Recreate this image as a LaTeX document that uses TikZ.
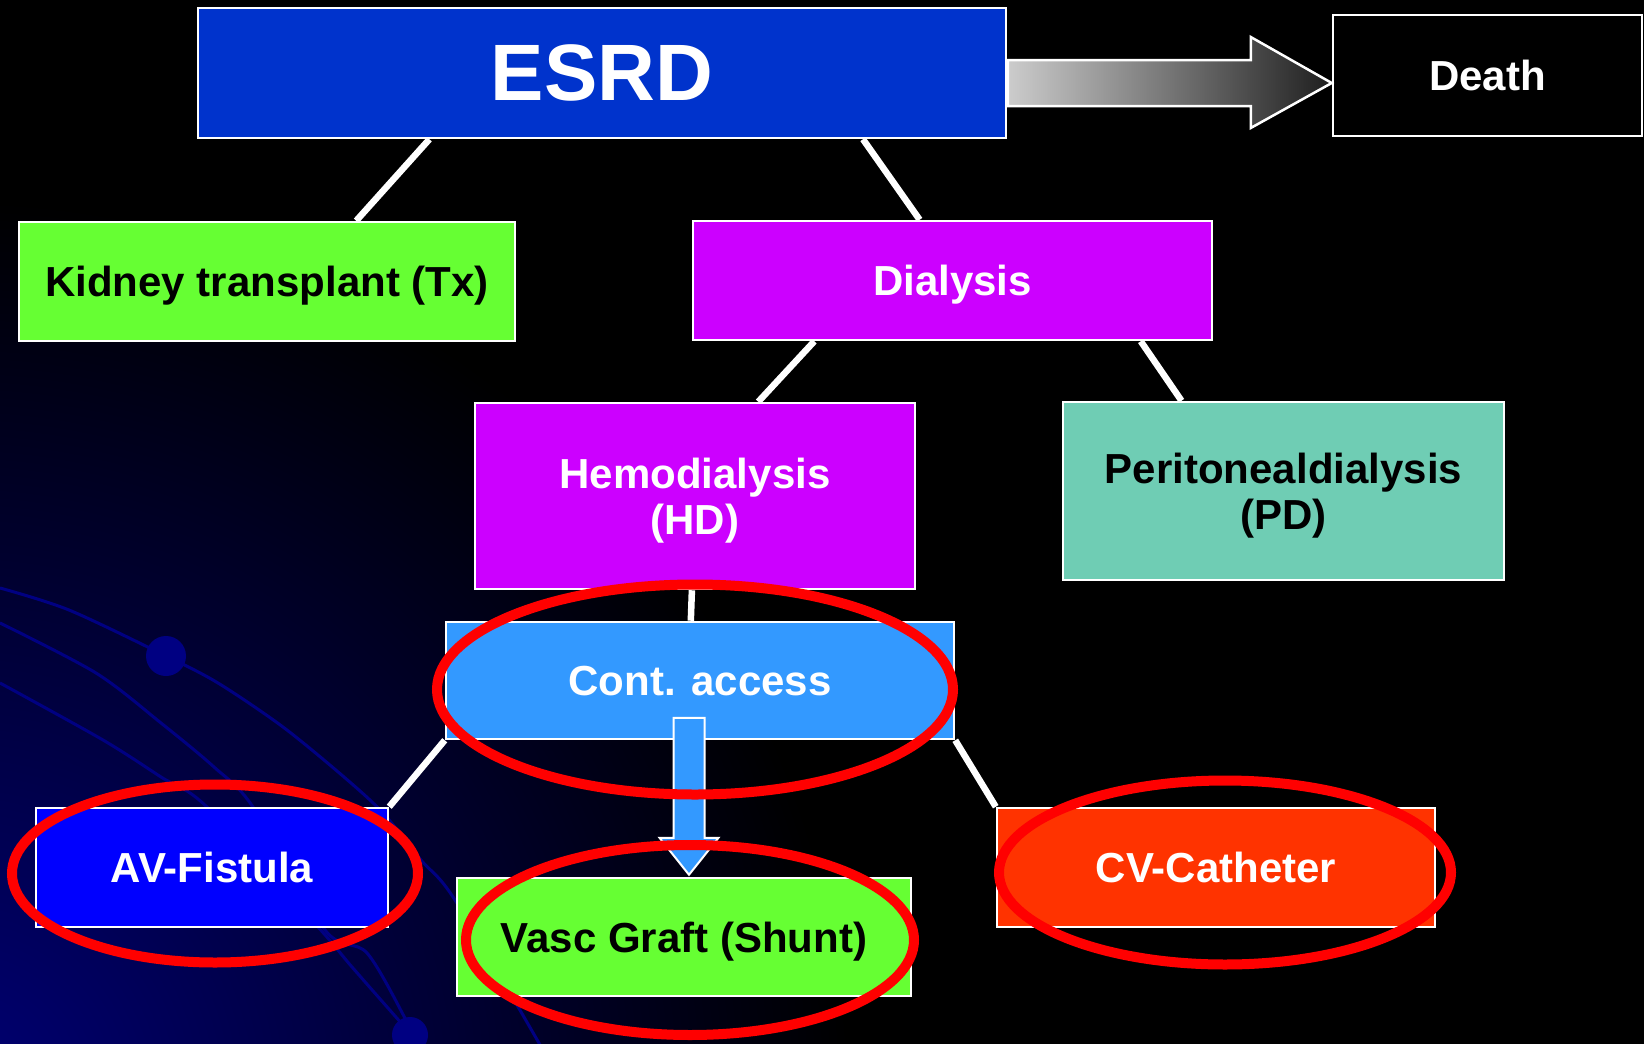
\documentclass[tikz,border=0pt]{standalone}
\usepackage{fontspec}
\setmainfont{Liberation Sans}
\usetikzlibrary{calc}

\definecolor{esrdblue}{RGB}{0,51,204}
\definecolor{txgreen}{RGB}{102,255,51}
\definecolor{dialpurple}{RGB}{204,0,255}
\definecolor{pdteal}{RGB}{111,205,180}
\definecolor{accessblue}{RGB}{51,153,255}
\definecolor{avblue}{RGB}{0,0,255}
\definecolor{cvred}{RGB}{255,51,0}
\definecolor{decoblue}{RGB}{0,0,130}

\begin{document}
\begin{tikzpicture}[
  x=1pt, y=-1pt,
  box/.style={rectangle, draw=white, line width=2.5pt, align=center, inner sep=0pt, text depth=0pt, text=white, font=\bfseries\fontsize{42}{46}\selectfont},
  link/.style={draw=white, line width=6.5pt},
  ring/.style={draw=red, line width=10pt},
  deco/.style={draw=decoblue, line width=3pt},
  blockarrow/.style={fill=accessblue, draw=white, line width=2pt},
  greyarrow/.style={left color=black!20, right color=black!88, draw=white, line width=2.5pt}
]

\fill[black] (0,0) rectangle (1644,1044);
\begin{scope}
  \clip (0,0) rectangle (1644,1044);
  \shade[inner color=decoblue!90!black, outer color=black] (-50,1100) circle (900pt);
  \draw[deco] plot[smooth] coordinates {(0,588) (69,610) (166,656) (218,683) (283,727) (344,777) (383,813) (421,860) (455,900) (543,1050)};
  \draw[deco] plot[smooth] coordinates {(0,623) (96,673) (161,723) (214,767) (253,807) (325,930) (367,953) (406,1020) (420,1050)};
  \draw[deco] plot[smooth] coordinates {(0,683) (103,740) (161,777) (207,807) (318,927) (352,967) (410,1033)};
  \fill[decoblue] (166,656) circle (20pt);
  \fill[decoblue] (410,1035) circle (18pt);
\end{scope}
\useasboundingbox (0,0) rectangle (1644,1044);

\node (esrd) [box, fill=esrdblue, minimum width=808pt, minimum height=130pt, font=\bfseries\fontsize{80}{90}\selectfont] at (602,73) {ESRD};
\node (death) [box, fill=black, minimum width=309pt, minimum height=121pt] at (1487.5,75.5) {Death};

\node (kidney_tx) [box, fill=txgreen, text=black, minimum width=496pt, minimum height=119pt] at (267,281.5) {Kidney transplant (Tx)};
\node (dialysis) [box, fill=dialpurple, minimum width=519pt, minimum height=119pt] at (952.5,280.5) {Dialysis};

\node (hemo) [box, fill=dialpurple, minimum width=440pt, minimum height=186pt] at (695,496) {Hemodialysis\\(HD)};
\node (perito) [box, fill=pdteal, text=black, minimum width=441pt, minimum height=178pt] at (1283.5,491) {Peritonealdialysis\\(PD)};

\node (cont_access) [box, fill=accessblue, minimum width=508pt, minimum height=117pt] at (700,680.5) {Cont. access};

\node (av_fistula) [box, fill=avblue, minimum width=352pt, minimum height=119pt] at (212,867.5) {AV-Fistula};
\node (vasc_graft) [box, fill=txgreen, text=black, minimum width=454pt, minimum height=118pt] at (684,937) {Vasc Graft (Shunt)};
\node (cv_catheter) [box, fill=cvred, minimum width=438pt, minimum height=119pt] at (1216,867.5) {CV-Catheter};

\draw[link] ($(esrd.south west)!.287!(esrd.south east)$) -- ($(kidney_tx.north west)!.679!(kidney_tx.north east)$);
\draw[link] ($(esrd.south west)!.822!(esrd.south east)$) -- ($(dialysis.north west)!.437!(dialysis.north east)$);
\draw[link] ($(dialysis.south west)!.235!(dialysis.south east)$) -- ($(hemo.north west)!.643!(hemo.north east)$);
\draw[link] ($(dialysis.south west)!.861!(dialysis.south east)$) -- ($(perito.north west)!.27!(perito.north east)$);
\draw[link] ($(hemo.south west)!.493!(hemo.south east)$) -- ($(cont_access.north west)!.482!(cont_access.north east)$);
\draw[link] (cont_access.south west) -- (av_fistula.north east);
\draw[link] (cont_access.south east) -- (cv_catheter.north west);

\coordinate (death_tip) at ($(death.west)+(0,7.5)$);
\draw[greyarrow] (death_tip) -- ++(-81,-46) -- ++(0,23) -- ++(-243,0) -- ++(0,46) -- ++(243,0) -- ++(0,22) -- cycle;

\coordinate (graft_tip) at ($(vasc_graft.north)+(5,-2)$);
\draw[blockarrow] (graft_tip) ++(-15.5,-157) -- ++(31,0) -- ++(0,120) -- ++(14,0) -- (graft_tip) -- ++(-29.5,-37) -- ++(14,0) -- cycle;

\draw[ring] ($(cont_access)+(-5,9)$) ellipse [x radius=258pt, y radius=105pt];
\draw[ring] ($(av_fistula)+(3,6)$) ellipse [x radius=203pt, y radius=89pt];
\draw[ring] ($(vasc_graft)+(6,3)$) ellipse [x radius=224pt, y radius=95pt];
\draw[ring] ($(cv_catheter)+(9,5)$) ellipse [x radius=226pt, y radius=92pt];

\end{tikzpicture}
\end{document}
